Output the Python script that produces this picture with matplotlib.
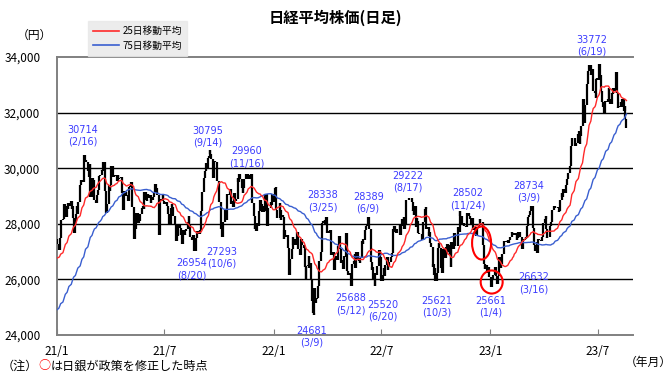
import numpy as np
import pandas as pd
import matplotlib
matplotlib.use("Agg")
import matplotlib.pyplot as plt
from matplotlib.patches import Ellipse
from matplotlib.lines import Line2D
import matplotlib.dates as mdates

plt.rcParams['font.family'] = ['Noto Sans CJK JP', 'DejaVu Sans']

# ---------------- data: daily closes (yen), one list per month ----------------
start_2020_month = 9
close_2020 = [
    [23138, 23247, 23465, 23205, 23089, 23274, 23032, 23235, 23406, 23559, 23454, 23475, 23319, 23360, 23346, 23087, 23204, 23511, 23539, 23185],
    [23029, 23185, 23312, 23422, 23647, 23619, 23558, 23601, 23626, 23507, 23410, 23671, 23567, 23639, 23474, 23516, 23494, 23418, 23485, 23331, 22977],
    [23295, 23695, 24105, 24325, 24839, 24905, 25349, 25520, 25385, 25906, 26014, 25728, 25634, 25527, 26165, 26297, 26537, 26644, 26433],
    [26787, 26800, 26809, 26751, 26547, 26467, 26817, 26756, 26652, 26732, 26687, 26757, 26806, 26763, 26714, 26436, 26524, 26668, 26854, 27568, 27444],
]
close_2021 = [
    [27258, 27158, 27055, 27490, 28139, 28164, 28456, 28698, 28519, 28242, 28633, 28523, 28756, 28631, 28822, 28546, 28635, 28197, 27663],
    [28091, 28362, 28646, 28341, 28779, 29388, 29505, 29562, 29520, 30084, 30467, 30292, 30236, 30017, 29894, 29671, 30168, 28966],
    [29663, 29409, 29559, 28930, 28864, 28743, 29028, 29036, 29212, 29717, 29766, 29921, 29914, 30216, 29792, 29174, 28995, 28405, 28729, 29176, 29385, 29178],
    [29389, 30089, 29944, 29696, 29730, 29708, 29768, 29538, 29751, 29620, 29642, 29683, 29685, 29100, 28508, 29188, 29020, 29126, 28995, 29053, 28812],
    [29331, 29357, 29518, 28608, 28147, 27448, 28084, 27824, 28406, 28044, 28098, 28317, 28364, 28553, 28642, 28549, 29149, 28860],
    [28814, 28946, 29058, 28942, 29019, 28743, 28963, 28860, 28958, 29161, 29441, 29291, 29018, 28964, 27588, 28884, 28874, 28875, 29066, 28812, 28791],
    [28707, 28783, 28643, 28366, 28118, 27940, 28569, 28718, 28608, 28279, 28003, 27652, 27388, 27548, 27970, 27833, 27581, 27782, 27283],
    [27781, 27641, 27584, 27728, 27820, 28070, 28015, 28279, 27977, 27523, 27424, 27585, 27281, 27013, 27494, 27732, 27724, 27742, 27641, 27789, 28089],
    [28451, 28543, 29128, 29659, 29916, 30181, 30008, 30381, 30447, 30670, 30511, 30323, 29839, 29639, 30248, 30240, 30183, 29544, 29544, 29452],
    [28771, 28444, 27822, 27528, 27678, 28048, 28498, 28230, 28140, 28550, 29068, 29025, 29215, 29255, 28708, 28804, 28600, 29106, 29098, 28820, 28892],
    [29647, 29520, 29794, 29611, 29507, 29285, 29106, 29278, 29609, 29777, 29808, 29688, 29598, 29745, 29774, 29302, 28751, 28283, 27821],
    [27935, 27753, 28029, 27927, 28455, 28860, 28725, 28437, 28640, 28432, 28459, 29066, 28545, 27937, 28517, 28562, 28782, 28676, 29069, 28906, 28791],
]
close_2022 = [
    [29301, 29332, 28487, 28479, 28222, 28765, 28489, 28124, 28333, 28257, 27467, 27772, 27522, 27588, 27131, 27011, 26170, 26717, 27001],
    [27078, 27533, 27241, 27439, 27248, 27284, 27579, 27696, 27080, 26865, 27459, 27460, 27232, 27122, 26910, 26449, 25970, 26476, 26526],
    [26844, 26393, 26577, 25985, 25221, 24790, 24717, 25690, 25162, 25307, 25346, 25762, 26652, 26827, 26985, 27224, 28040, 28110, 28149, 27943, 28252, 27821],
    [27665, 27736, 27787, 27350, 26888, 26985, 26821, 26334, 26843, 26696, 26799, 27217, 27553, 27105, 26590, 26700, 26386, 26847],
    [26818, 27678, 27003, 26319, 26167, 26213, 25748, 26427, 26547, 26659, 26911, 26402, 26739, 27001, 26748, 26677, 26605, 26781, 27369, 27279],
    [27457, 27413, 27761, 27916, 27943, 28234, 28246, 27824, 26987, 26629, 26326, 26431, 25963, 25771, 26246, 26149, 26171, 26491, 26871, 27049, 26804, 26393],
    [25935, 26153, 26423, 26107, 26490, 26517, 26812, 26336, 26479, 26643, 26788, 26961, 27680, 27803, 27914, 27699, 27655, 27715, 27815, 27801],
    [27993, 27594, 27742, 27932, 28176, 28249, 27819, 27999, 28546, 28871, 28868, 28942, 28942, 28930, 28794, 28452, 28479, 28313, 28641, 27878, 28195, 28091],
    [27661, 27650, 27619, 27626, 27430, 28065, 28214, 28542, 28614, 27818, 27875, 27567, 27688, 27313, 27153, 26431, 26571, 26173, 26422, 25937],
    [26215, 26992, 27120, 27311, 27116, 26401, 26397, 26237, 27090, 26775, 27156, 26911, 27257, 26974, 26891, 27250, 26432, 27345, 27105, 27587],
    [27678, 27663, 27199, 27527, 27872, 27716, 28446, 28263, 27963, 27990, 28028, 27930, 27899, 28115, 28383, 28283, 28162, 28027, 27968],
    [28226, 27777, 27820, 27885, 27686, 27574, 27901, 27842, 27954, 28156, 28051, 27527, 27237, 26568, 26387, 26507, 26235, 26405, 26447, 26340, 26094],
]
close_2023 = [
    [25716, 25820, 25973, 26175, 26446, 26449, 26119, 25822, 26138, 26791, 26405, 26553, 26906, 27299, 27395, 27362, 27382, 27433, 27327],
    [27346, 27402, 27509, 27694, 27685, 27606, 27584, 27670, 27427, 27602, 27501, 27696, 27513, 27531, 27104, 27453, 27423, 27445],
    [27516, 27499, 27927, 28237, 28309, 28444, 28623, 28143, 27832, 27222, 27229, 27010, 27334, 26945, 27467, 27419, 27385, 27477, 27518, 27883, 28041],
    [28188, 28287, 27813, 27472, 27518, 27633, 27923, 28082, 28493, 28514, 28658, 28607, 28564, 28593, 28620, 28416, 28457, 28856],
    [29123, 28949, 29242, 29123, 29126, 29388, 29626, 29842, 30093, 30573, 30808, 31086, 31086, 30957, 30801, 30916, 31233, 31328, 30888],
    [31148, 31524, 32217, 32507, 31913, 31641, 32265, 32434, 33018, 33502, 33485, 33706, 33370, 33388, 33575, 32901, 32782, 32698, 32538, 33194, 33234, 33189],
    [33753, 33422, 33338, 32773, 32388, 32189, 32204, 31943, 32419, 32391, 32493, 32896, 32490, 32304, 32700, 32682, 32668, 32891, 32759, 33172],
    [33476, 32707, 32159, 32192, 32254, 32377, 32204, 32473, 32059, 32238, 31766, 31626, 31450],
]
last_day = "2023-08-18"
display_start = "2021-01-01"

# annotated highs/lows
ann_values = ["30714", "30795", "29960", "26954", "27293", "24681", "28338", "28389",
              "25688", "25520", "29222", "28502", "25621", "25661", "28734", "26632", "33772"]
ann_dates = ["2/16", "9/14", "11/16", "8/20", "10/6", "3/9", "3/25", "6/9",
             "5/12", "6/20", "8/17", "11/24", "10/3", "1/4", "3/9", "3/16", "6/19"]
# BOJ policy change points (circles)
policy_dates = ["2022-12-20", "2023-01-06"]

tick_dates = ["2021-01-01", "2021-07-01", "2022-01-01", "2022-07-01", "2023-01-01", "2023-07-01"]
tick_labels = ["21/1", "21/7", "22/1", "22/7", "23/1", "23/7"]
y_ticks = [24000, 26000, 28000, 30000, 32000, 34000]

# ---------------- build daily series ----------------
def month_dates(year, month, n):
    first = pd.Timestamp(year=year, month=month, day=1)
    last = first + pd.offsets.MonthEnd(0)
    if last > pd.Timestamp(last_day):
        last = pd.Timestamp(last_day)
    bd = pd.bdate_range(first, last)
    idx = np.round(np.linspace(0, len(bd) - 1, n)).astype(int)
    return list(bd[idx])

dates, closes = [], []
for year, m0, block in [(2020, start_2020_month, close_2020), (2021, 1, close_2021),
                        (2022, 1, close_2022), (2023, 1, close_2023)]:
    for i, vals in enumerate(block):
        dates += month_dates(year, m0 + i, len(vals))
        closes += vals

s = pd.Series(closes, index=pd.DatetimeIndex(dates), dtype=float)
ma25 = s.rolling(25).mean()
ma75 = s.rolling(75).mean()
opens = s.shift(1)
mask = s.index >= pd.Timestamp(display_start)
sd = s[mask]; od = opens[mask]
m25 = ma25[mask]; m75 = ma75[mask]

# ---------------- figure ----------------
fig = plt.figure(figsize=(6.7, 3.77), dpi=100)
ax = fig.add_axes([57/670, 1 - 335/377, (633-57)/670, (335-57)/377])

x0 = pd.Timestamp("2021-01-01")
x1 = pd.Timestamp("2023-08-29")
ax.set_xlim(x0, x1)
ax.set_ylim(24000, 34000)

for yv in y_ticks[1:-1]:
    ax.axhline(yv, color="black", lw=1.0, zorder=1)

lo = np.minimum(sd.values, od.values)
hi = np.maximum(sd.values, od.values)
ax.vlines(sd.index, lo, hi, color="black", lw=1.6, zorder=3)

ax.plot(m75.index, m75.values, color="#3a5fd0", lw=1.0, zorder=4)
ax.plot(m25.index, m25.values, color="#ff2a2a", lw=1.0, zorder=5)

# spines
ax.spines["right"].set_visible(False)
for sp in ["left", "bottom", "top"]:
    ax.spines[sp].set_color("#808080")
    ax.spines[sp].set_linewidth(1.4)

ax.set_yticks(y_ticks)
ax.set_yticklabels([f"{v:,}" for v in y_ticks], fontsize=8.5)
ax.tick_params(axis="y", length=0, pad=12)
ax.set_xticks([pd.Timestamp(d) for d in tick_dates])
ax.set_xticklabels(tick_labels, fontsize=8.5)
ax.tick_params(axis="x", direction="in", length=4, color="#808080", pad=7)

# annotation text positions (date, y in yen)
ann_pos = [("2021-02-13", 31160), ("2021-09-12", 31140), ("2021-11-17", 30385),
           ("2021-08-16", 26374), ("2021-10-06", 26770), ("2022-03-06", 23930),
           ("2022-03-25", 28820), ("2022-06-09", 28766), ("2022-05-11", 25115),
           ("2022-07-04", 24881), ("2022-08-15", 29504), ("2022-11-24", 28892),
           ("2022-10-03", 25025), ("2023-01-02", 25025), ("2023-03-07", 29144),
           ("2023-03-15", 25870), ("2023-06-20", 34413)]
blue = "#3c3cff"
for v, d, (px, py) in zip(ann_values, ann_dates, ann_pos):
    ax.text(pd.Timestamp(px), py, f"{v}\n({d})", color=blue, fontsize=7,
            ha="center", va="center", linespacing=1.25, clip_on=False, zorder=6,
            family=["DejaVu Sans"])

# policy circles
circ_sizes = [(32, 1190, 27310), (37, 830, 25906)]
for d, (w, h, yc) in zip(policy_dates, circ_sizes):
    xc = mdates.date2num(pd.Timestamp(d)) - 3
    ax.add_patch(Ellipse((xc, yc), w, h, fill=False, edgecolor="#ff0000", lw=1.5, zorder=7))

# title and labels
fig.text(0.5, 1 - 18/377, "日経平均株価(日足)", ha="center", va="center",
         fontsize=11, fontweight="bold")
fig.text(34/670, 1 - 35/377, "（円）", ha="center", va="center", fontsize=8.5)
fig.text(648/670, 1 - 362/377, "（年月）", ha="center", va="center", fontsize=8.5)

t1 = fig.text(2/670, 1 - 366/377, "（注）", ha="left", va="center", fontsize=8.7)
t2 = fig.text(0, 0, "○", fontsize=8.7, color="#ff0000", va="bottom", ha="left")
fig.canvas.draw()
bb = t1.get_window_extent()
t2.set_position(((bb.x1) / 670, bb.y0 / 377))
fig.canvas.draw()
bb2 = t2.get_window_extent()
fig.text(bb2.x1 / 670, bb.y0 / 377, "は日銀が政策を修正した時点", fontsize=8.7,
         va="bottom", ha="left")

# legend
handles = [Line2D([], [], color="#ff2a2a", lw=1.2), Line2D([], [], color="#3a5fd0", lw=1.2)]
leg = fig.legend(handles, ["25日移動平均", "75日移動平均"], loc="upper left",
                 bbox_to_anchor=(88/670, 1 - 21/377), borderaxespad=0,
                 fontsize=7, frameon=True, fancybox=False, handlelength=2.6,
                 handletextpad=0.4, borderpad=0.55, labelspacing=0.45)
leg.get_frame().set_facecolor("#e8e8e8")
leg.get_frame().set_edgecolor("#e8e8e8")

fig.savefig("out.png", dpi=100)
